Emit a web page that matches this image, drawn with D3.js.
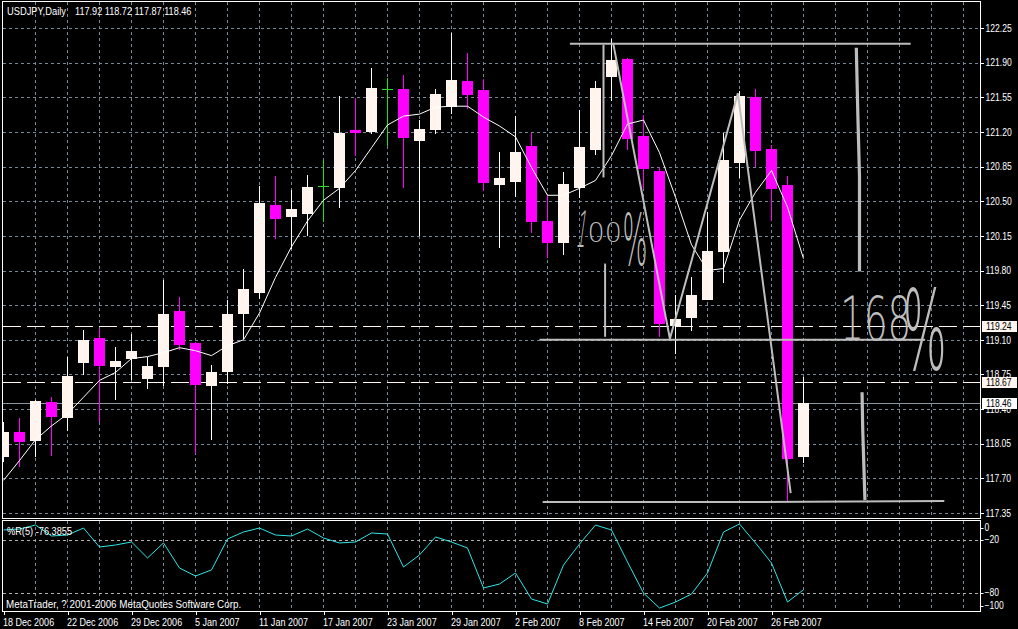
<!DOCTYPE html>
<html><head><meta charset="utf-8">
<script src="https://cdn.jsdelivr.net/npm/d3@7"></script>
<style>
html,body{margin:0;padding:0;background:#000;overflow:hidden;}
svg{display:block;}
text{font-family:"Liberation Sans",Arial,sans-serif;font-size:10px;}
</style></head><body>
<svg id="c" width="1018" height="629"></svg>
<script>
// ---------------- DATA ----------------
const symbolTitle = "USDJPY,Daily";
const dates = ["2006-12-18","2006-12-19","2006-12-20","2006-12-21","2006-12-22","2006-12-26","2006-12-27","2006-12-28","2006-12-29",
  "2007-01-02","2007-01-03","2007-01-04","2007-01-05","2007-01-08","2007-01-09","2007-01-10","2007-01-11","2007-01-12",
  "2007-01-15","2007-01-16","2007-01-17","2007-01-18","2007-01-19","2007-01-22","2007-01-23","2007-01-24","2007-01-25",
  "2007-01-26","2007-01-29","2007-01-30","2007-01-31","2007-02-01","2007-02-02","2007-02-05","2007-02-06","2007-02-07",
  "2007-02-08","2007-02-09","2007-02-12","2007-02-13","2007-02-14","2007-02-15","2007-02-16","2007-02-19","2007-02-20",
  "2007-02-21","2007-02-22","2007-02-23","2007-02-26","2007-02-27","2007-02-28"];
const open  = [117.93,118.17,118.09,118.47,118.32,118.88,119.12,118.84,118.92,118.72,118.83,119.39,119.07,118.64,118.78,119.37,119.58,120.46,120.35,120.38,120.65,120.64,121.22,121.21,121.63,121.63,121.12,121.23,121.46,121.71,121.62,120.67,120.71,121.06,120.30,120.08,120.65,121.02,121.77,121.94,121.16,120.81,119.25,119.33,119.52,120.00,120.89,121.55,121.03,120.66,117.92];
const high  = [118.27,118.31,118.49,118.52,118.93,119.20,119.21,119.03,119.16,118.93,119.70,119.53,119.08,118.85,119.50,119.82,120.65,120.75,120.61,120.76,120.92,121.56,121.54,121.85,121.74,121.78,121.32,121.63,122.20,122.00,121.73,121.00,121.36,121.19,120.56,120.80,121.42,121.71,122.14,121.95,121.37,120.85,119.55,119.73,120.39,121.19,121.61,121.63,121.07,120.75,118.72];
const low   = [117.88,117.82,117.93,117.94,118.19,118.75,118.28,118.50,118.70,118.61,118.64,119.01,117.96,118.10,118.66,119.12,119.52,120.13,120.03,120.16,120.30,120.44,120.97,121.19,121.07,120.64,120.16,121.19,121.39,121.44,120.61,120.04,120.55,120.19,119.94,119.97,120.54,120.98,121.52,121.03,120.63,119.14,118.97,119.20,119.51,119.68,120.74,120.86,120.31,117.47,117.87];
const close = [118.17,118.08,118.48,118.33,118.73,119.10,118.85,118.89,118.99,118.84,119.36,119.06,118.66,118.77,119.36,119.61,120.48,120.33,120.42,120.64,120.65,121.19,121.20,121.64,121.63,121.15,121.23,121.58,121.72,121.58,120.69,120.73,121.00,120.30,120.09,120.67,121.05,121.64,121.93,121.14,120.84,119.27,119.31,119.55,120.00,120.92,121.56,121.01,120.64,117.90,118.46];
const maValues = [117.68,117.88,118.09,118.23,118.35,118.52,118.69,118.77,118.91,118.93,118.97,119.02,118.99,118.94,119.04,119.10,119.37,119.73,120.04,120.30,120.51,120.63,120.81,121.04,121.27,121.36,121.38,121.45,121.46,121.46,121.35,121.26,121.15,120.84,120.56,120.56,120.63,120.71,120.96,121.28,121.32,120.99,120.54,120.06,119.80,119.82,120.31,120.59,120.81,120.44,119.92];
const wprValues = [-8.7,-7.6,-3.1,-15.5,-14.4,-6.5,-28.0,-25.7,-22.3,-40.4,-23.4,-51.8,-60.8,-54.0,-18.9,-11.0,-6.5,-14.4,-15.5,-7.6,-17.8,-23.4,-22.3,-12.1,-13.3,-50.6,-37.0,-16.6,-22.3,-29.1,-74.4,-69.9,-57.4,-86.9,-92.5,-48.4,-24.6,-3.1,-8.7,-45.0,-80.1,-97.1,-90.3,-81.2,-57.4,-11.0,-1.9,-23.4,-46.1,-90.3,-76.3855];
const priceTicks = [122.25,121.90,121.55,121.20,120.85,120.50,120.15,119.80,119.45,119.10,118.75,118.40,118.05,117.70,117.35];
const wprTicks = [0,-20,-80,-100];
const wprLevels = [-20,-80];
const dateTickIdx = [0,4,8,12,16,20,24,28,32,36,40,44,48];
const dashedLevels = [119.24,118.67];
const bidPrice = 118.46;
// hand drawn objects, anchored in (bar index, price)
const drawnLines = [
  [[35.4,122.09],[56.7,122.09]],
  [[33.5,119.10],[57.6,119.10]],
  [[33.7,117.46],[46.2,117.46],[58.8,117.47]],
  [[38.1,122.10],[41.65,119.11],[45.9,121.59],[49.2,117.55]],
  [[37.5,122.08],[37.5,120.74]],
  [[37.6,119.87],[37.6,119.13]]
];
const drawnThick = [
  [[53.3,122.05],[53.4,121.35],[53.5,120.75],[53.5,119.79]],
  [[53.66,118.57],[53.7,118.20],[53.84,117.48]]
];
const handNotes = [
  {text:"1", i:35.72, p:120.04},
  {text:"00", i:36.5, p:120.09},
  {text:"%", i:38.68, p:119.86},
  {text:"168", i:52.3, p:119.10},
  {text:"%", i:56.2, p:118.80}
];

// ---------------- CHART ----------------
const svg = d3.select("#c");
svg.append("rect").attr("width",1018).attr("height",629).attr("fill","#000");

const PL=2.5, PR=980.5, PT=1.5, PB=518.5, IT=520.5, IB=611.5;
const x = d3.scaleLinear().domain([0,60]).range([3.5,963.5]);
const y = d3.scaleLinear().domain([117.35,122.25]).range([513,28]);
const yw = d3.scaleLinear().domain([-100,0]).range([610.6,522.3]);
const GRID = "#778899";
const f2 = d3.format(".2f");

// horizontally squeeze text (emulates the narrow terminal font)
function squeeze(sel, sx){
  sel.each(function(){
    const t = d3.select(this);
    const x0 = +t.attr("x")||0, y0 = +t.attr("y")||0;
    t.attr("x",0).attr("y",0).attr("transform",`translate(${x0},${y0}) scale(${sx},1)`);
  });
  return sel;
}

const defs = svg.append("defs");
defs.append("clipPath").attr("id","mainClip").append("rect").attr("x",3).attr("y",2).attr("width",977).attr("height",516);
defs.append("clipPath").attr("id","indClip").append("rect").attr("x",3).attr("y",521).attr("width",977).attr("height",90);

// grid main
const gridIdx = d3.range(2,61,2);
const gMain = svg.append("g").attr("clip-path","url(#mainClip)").attr("shape-rendering","crispEdges");
gMain.selectAll(".vg").data(gridIdx).join("line")
  .attr("x1",d=>x(d)).attr("x2",d=>x(d)).attr("y1",PT).attr("y2",PB)
  .attr("stroke",GRID).attr("stroke-dasharray","3,3");
gMain.selectAll(".hg").data(priceTicks).join("line")
  .attr("x1",PL).attr("x2",PR).attr("y1",d=>Math.round(y(d))+0.5).attr("y2",d=>Math.round(y(d))+0.5)
  .attr("stroke",GRID).attr("stroke-dasharray","3,3");

// dashed level lines
gMain.selectAll(".dl").data(dashedLevels).join("line")
  .attr("x1",PL).attr("x2",PR).attr("y1",d=>Math.round(y(d))+0.5).attr("y2",d=>Math.round(y(d))+0.5)
  .attr("stroke","#fff5ee").attr("stroke-dasharray","18,6");
// bid line
gMain.append("line").attr("x1",PL).attr("x2",PR).attr("y1",Math.round(y(bidPrice))+0.5).attr("y2",Math.round(y(bidPrice))+0.5)
  .attr("stroke","#8c96a0");

// candles
const bars = d3.range(open.length).map(i=>({i,o:open[i],h:high[i],l:low[i],c:close[i]}));
const colOf = d=> d.c>d.o ? "#fff5ee" : (d.c<d.o ? "#ff00ff" : "#22e022");
const wickOf = d=> d.c>d.o ? "#ffffff" : (d.c<d.o ? "#ff00ff" : "#22e022");
const cg = gMain.append("g");
cg.selectAll(".wick").data(bars).join("line")
  .attr("x1",d=>x(d.i)).attr("x2",d=>x(d.i))
  .attr("y1",d=>Math.round(y(d.h))).attr("y2",d=>Math.round(y(d.l))+1)
  .attr("stroke",wickOf);
cg.selectAll(".body").data(bars.filter(d=>d.c!==d.o)).join("rect")
  .attr("x",d=>x(d.i)-5.5)
  .attr("y",d=>Math.round(y(Math.max(d.o,d.c))))
  .attr("width",11)
  .attr("height",d=>Math.max(2,Math.round(Math.abs(y(d.o)-y(d.c)))+1))
  .attr("fill",colOf);
cg.selectAll(".doji").data(bars.filter(d=>d.c===d.o)).join("line")
  .attr("x1",d=>x(d.i)-5.5).attr("x2",d=>x(d.i)+5.5)
  .attr("y1",d=>Math.round(y(d.o))+0.5).attr("y2",d=>Math.round(y(d.o))+0.5)
  .attr("stroke",colOf);

// moving average
svg.append("g").attr("clip-path","url(#mainClip)").append("path")
  .datum(maValues)
  .attr("d",d3.line().x((d,i)=>x(i)).y(d=>y(d)))
  .attr("fill","none").attr("stroke","#ffffff").attr("stroke-width",1);

// hand drawn objects
const dg = svg.append("g").attr("clip-path","url(#mainClip)");
const pline = d3.line().x(p=>x(p[0])).y(p=>y(p[1]));
dg.selectAll(".dr").data(drawnLines).join("path")
  .attr("d",pline).attr("fill","none").attr("stroke","#bdbdbd").attr("stroke-width",2);
dg.selectAll(".dt").data(drawnThick).join("path")
  .attr("d",pline).attr("fill","none").attr("stroke","#bdbdbd").attr("stroke-width",3.2);
const noteStyle = [
  {size:50, sx:0.32, rot:8},
  {size:27, sx:1.0, rot:0},
  {size:71, sx:0.37, rot:0},
  {size:60, sx:0.62, rot:0},
  {size:110, sx:0.42, rot:0}
];
handNotes.forEach((n,k)=>{
  const s = noteStyle[k];
  dg.append("text")
    .attr("transform",`translate(${x(n.i)},${y(n.p)}) skewX(${-s.rot}) scale(${s.sx},1)`)
    .attr("fill","#bdbdbd")
    .style("font-family","'DejaVu Sans',sans-serif").style("font-weight","200")
    .style("font-size",s.size+"px").text(n.text);
});

// borders
svg.append("rect").attr("x",PL).attr("y",PT).attr("width",PR-PL).attr("height",PB-PT)
  .attr("fill","none").attr("stroke","#fff").attr("shape-rendering","crispEdges");
svg.append("rect").attr("x",PL).attr("y",IT).attr("width",PR-PL).attr("height",IB-IT)
  .attr("fill","none").attr("stroke","#fff").attr("shape-rendering","crispEdges");

// price axis
const pa = svg.append("g").attr("transform",`translate(${PR},0)`)
  .call(d3.axisRight(y).tickValues(priceTicks).tickSize(3).tickFormat(f2));
pa.select(".domain").remove();
pa.selectAll(".tick line").attr("stroke","#fff").attr("shape-rendering","crispEdges");
squeeze(pa.selectAll(".tick text").attr("fill","#fff").attr("x",5).attr("font-size",null).attr("font-family",null).style("font-size","10px"), 0.86);

// line labels on axis
const lbls = [...dashedLevels.map(p=>({p,bg:"#fff5ee"})), {p:bidPrice,bg:"#ffffff"}];
const lg = svg.append("g");
lbls.forEach(d=>{
  const yy = Math.round(y(d.p));
  lg.append("rect").attr("x",982).attr("y",yy-5).attr("width",35).attr("height",11).attr("fill",d.bg);
  squeeze(lg.append("text").attr("x",986).attr("y",yy).attr("dy","0.35em").attr("fill","#000").text(f2(d.p)), 0.86);
});

// indicator grid
const gInd = svg.append("g").attr("clip-path","url(#indClip)").attr("shape-rendering","crispEdges");
gInd.selectAll(".vg").data(gridIdx).join("line")
  .attr("x1",d=>x(d)).attr("x2",d=>x(d)).attr("y1",IT).attr("y2",IB)
  .attr("stroke",GRID).attr("stroke-dasharray","3,3");
gInd.selectAll(".lv").data(wprLevels).join("line")
  .attr("x1",PL).attr("x2",PR).attr("y1",d=>Math.round(yw(d))+0.5).attr("y2",d=>Math.round(yw(d))+0.5)
  .attr("stroke","#b0b0b0").attr("stroke-dasharray","3,3");
svg.append("g").attr("clip-path","url(#indClip)").append("path")
  .datum(wprValues)
  .attr("d",d3.line().x((d,i)=>x(i)).y(d=>yw(d)))
  .attr("fill","none").attr("stroke","#2ee6e6").attr("stroke-width",1);

// indicator axis
const clampW = v => Math.min(605.5,Math.max(527.5,yw(v)));
const wa = svg.append("g").attr("transform",`translate(${PR},0)`);
wa.selectAll("line").data(wprTicks).join("line")
  .attr("x1",0).attr("x2",3).attr("y1",d=>Math.round(clampW(d))+0.5)
  .attr("y2",d=>Math.round(clampW(d))+0.5).attr("stroke","#fff");
squeeze(wa.selectAll("text").data(wprTicks).join("text")
  .attr("x",4).attr("y",d=>clampW(d)).attr("dy","0.35em")
  .attr("fill","#fff").text(d=>d3.format("d")(d)), 0.86);

// date axis
const parse = d3.timeParse("%Y-%m-%d");
const fmt = d3.timeFormat("%-d %b %Y");
const da = svg.append("g").attr("transform",`translate(0,${IB})`)
  .call(d3.axisBottom(x).tickValues(dateTickIdx).tickSize(3).tickFormat(i=>fmt(parse(dates[i]))));
da.select(".domain").remove();
da.selectAll(".tick line").attr("stroke","#fff").attr("shape-rendering","crispEdges");
squeeze(da.selectAll(".tick text").attr("fill","#fff").attr("text-anchor","start")
  .attr("font-size",null).attr("font-family",null).style("font-size","10.5px")
  .attr("x",-1).attr("y",14.5).attr("dy",null), 0.86);

// texts
const last = bars[bars.length-1];
squeeze(svg.append("text").attr("x",7).attr("y",15).attr("fill","#fff").style("font-size","11px").text(symbolTitle), 0.85);
squeeze(svg.append("text").attr("x",75).attr("y",15).attr("fill","#fff").style("font-size","11px")
  .text([last.o,last.h,last.l,last.c].map(f2).join(" ")), 0.83);
squeeze(svg.append("text").attr("x",7).attr("y",535).attr("fill","#fff").style("font-size","11px")
  .text("%R(5) " + wprValues[wprValues.length-1].toFixed(4)), 0.84);
squeeze(svg.append("text").attr("x",6).attr("y",608).attr("fill","#fff").style("font-size","11px")
  .text("MetaTrader, ? 2001-2006 MetaQuotes Software Corp."), 0.895);
</script></body></html>
